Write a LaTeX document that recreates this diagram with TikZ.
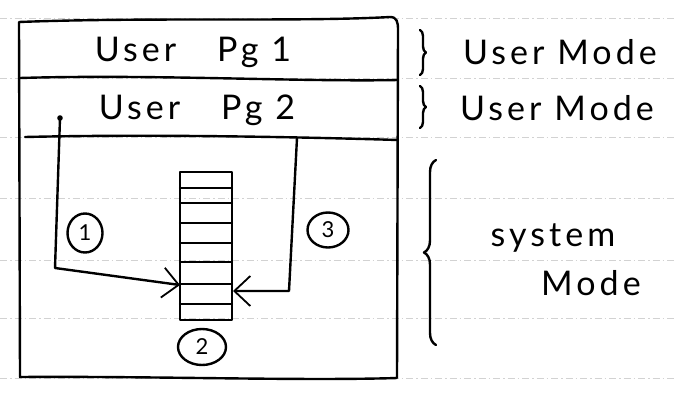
\documentclass[tikz,border=0pt]{standalone}
\usepackage{fontspec}
\setmainfont{Lato}
\newfontfamily\hand[LetterSpace=12]{Lato}
\usetikzlibrary{arrows.meta,shapes.geometric,decorations.pathreplacing,calc}

\begin{document}
\begin{tikzpicture}[x=1pt,y=-1pt,
  ink/.style={line width=2.4pt, line cap=round, line join=round},
  rule/.style={gray!35, line width=0.6pt, dash pattern=on 7pt off 3pt on 1.5pt off 3pt},
  txt/.style={font=\hand\fontsize{34}{36}\selectfont, inner sep=0pt},
  num/.style={ellipse, draw, ink, inner sep=0pt, font=\fontsize{22}{24}\selectfont},
  barb/.style={-{Straight Barb[length=16pt,width=30pt,line width=1.8pt]}},
  curly/.style={ink, decorate, decoration={brace, amplitude=#1}}]

  \useasboundingbox (0,0) rectangle (675,394);

  % ruled notebook lines
  \foreach \y in {18,78,137,198,260,318,378}
    \draw[rule] (0,\y) -- (675,\y);

  % outer frame and the two page dividers
  \draw[ink] (19,22) .. controls (150,17) and (300,22) .. (390,17)
             .. controls (397,17) and (398,22) .. (398,30) -- (397,378)
             .. controls (300,381) and (150,376) .. (20,377) -- cycle;
  \draw[ink] (20,78) .. controls (150,74) and (300,82) .. (398,80);
  \draw[ink] (25,137) .. controls (150,134) and (300,137) .. (398,140);

  % page labels
  \node[txt] (pg1) at (193,52) {User\hspace{1.2em}Pg 1};
  \node[txt] (pg2) at (197,110) {User\hspace{1.2em}Pg 2};

  % kernel stack
  \node[draw, ink, minimum width=52pt, minimum height=148pt, inner sep=0pt]
    (stack) at (206,246) {};
  \foreach \y in {188,203,223,243,262,284,304}
    \draw[ink] (180,\y) -- (232,\y);

  % path 1: into the stack
  \coordinate (start) at (60,118);
  \coordinate (in) at (180,285);
  \fill (start) circle (2.8pt);
  \draw[ink, barb] (start) -- (55,268) -- (in);

  % path 3: back out of the stack
  \coordinate (top) at (297,138);
  \coordinate (out) at (233,291);
  \draw[ink, barb] (top) -- (289,291) -- (out);

  % step numbers
  \node[num, minimum width=35pt, minimum height=39pt] (n1) at (85,233) {1};
  \node[num, minimum width=41pt, minimum height=35pt] (n3) at (328,230) {3};
  \node[num, minimum width=48pt, minimum height=36pt] (n2) at (202,347) {2};

  % mode braces and labels
  \draw[curly=6pt] (420,30) -- (420,75);
  \draw[curly=6pt] (420,86) -- (420,128);
  \draw[curly=12pt] (436,345) -- (436,160);
  \node[txt] (um1) at (560,52) {User Mode};
  \node[txt] (um2) at (557,108) {User Mode};
  \node[txt] (sys) at (553,238) {system};
  \node[txt] (sm) at (591,283) {Mode};
\end{tikzpicture}
\end{document}
